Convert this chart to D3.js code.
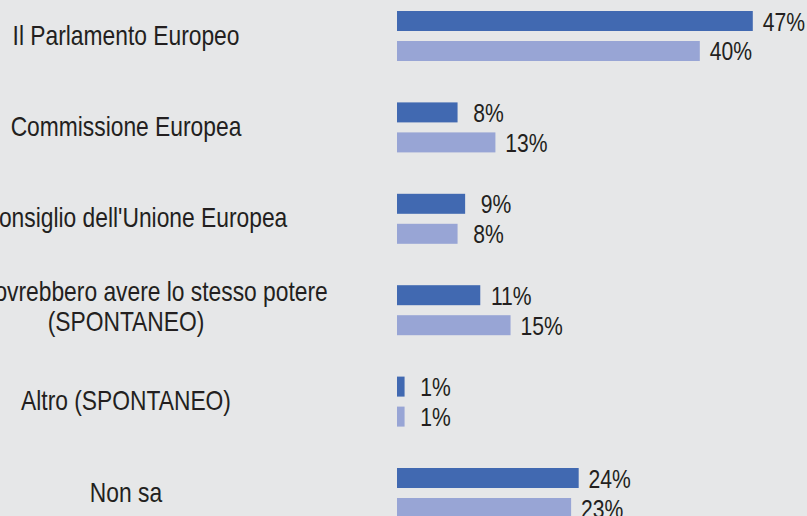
<!DOCTYPE html>
<html>
<head>
<meta charset="utf-8">
<script src="https://cdn.jsdelivr.net/npm/d3@7"></script>
<style>
  html, body { margin: 0; padding: 0; background: #e6e7e8; overflow: hidden; }
  svg { display: block; }
  text { font-family: "Liberation Sans", Arial, sans-serif; fill: #231f20; }
</style>
</head>
<body>
<div id="chart"></div>
<script>
// categories, "|" marks a line break in the label
const categories = [
  "Il Parlamento Europeo",
  "Commissione Europea",
  "Il Consiglio dell'Unione Europea",
  "Tutte dovrebbero avere lo stesso potere|(SPONTANEO)",
  "Altro (SPONTANEO)",
  "Non sa"
];
const series = ["recente", "precedente"];
const valuesRecente = [47, 8, 9, 11, 1, 24];
const valuesPrecedente = [40, 13, 8, 15, 1, 23];
const colors = ["#4169b1", "#98a5d5"];

const width = 807;
const height = 516;
const narrow = 0.845; // the original uses a narrow typeface

const svg = d3.select("#chart").append("svg")
    .attr("width", width)
    .attr("height", height);

svg.append("rect")
    .attr("width", width)
    .attr("height", height)
    .attr("fill", "#e6e7e8");

//----------------------------SCALES----------------------------//
const xScale = d3.scaleLinear().domain([0, 100]).range([397, 397 + 757]);
const yScale = d3.scaleBand()
    .domain(categories)
    .range([-9.7, -9.7 + 91.4 * categories.length]);
const yInner = d3.scaleBand()
    .domain(series)
    .range([yScale.bandwidth() / 2 - 25, yScale.bandwidth() / 2 + 25])
    .paddingInner(1 / 3);

const rows = categories.map(function(c, i) {
    return {
        cat: c,
        values: [
            { s: series[0], v: valuesRecente[i] },
            { s: series[1], v: valuesPrecedente[i] }
        ]
    };
});

//----------------------------LABELS----------------------------//
rows.forEach(function(d) {
    const lines = d.cat.split("|");
    const mid = yScale(d.cat) + yScale.bandwidth() / 2;
    const lh = 30;
    const first = mid + 8.5 - (lines.length - 1) * lh / 2 - (lines.length > 1 ? 3 : 0);
    const t = svg.append("g")
        .attr("transform", "translate(126," + first + ") scale(" + narrow + ",1)")
        .append("text")
        .attr("class", "cat-label")
        .attr("text-anchor", "middle")
        .style("font-size", "27px");
    t.selectAll("tspan")
        .data(lines)
        .enter()
        .append("tspan")
        .attr("x", 0)
        .attr("y", function(l, j) { return j * lh; })
        .text(function(l) { return l; });
});

//-----------------------------BARS-----------------------------//
const groups = svg.selectAll(".group")
    .data(rows)
    .enter()
    .append("g")
    .attr("class", "group")
    .attr("transform", function(d) { return "translate(0," + yScale(d.cat) + ")"; });

groups.selectAll("rect")
    .data(function(d) { return d.values; })
    .enter()
    .append("rect")
    .attr("x", xScale(0))
    .attr("y", function(d) { return yInner(d.s); })
    .attr("width", function(d) { return xScale(d.v) - xScale(0); })
    .attr("height", yInner.bandwidth())
    .attr("fill", function(d, i) { return colors[i]; });

groups.selectAll(".val")
    .data(function(d) { return d.values; })
    .enter()
    .append("g")
    .attr("transform", function(d) {
        return "translate(" + (xScale(d.v) + 31) + "," + (yInner(d.s) + yInner.bandwidth() / 2 + 9.5) + ") scale(" + narrow + ",1)";
    })
    .append("text")
    .attr("class", "val")
    .attr("text-anchor", "middle")
    .style("font-size", "25px")
    .text(function(d) { return d.v + "%"; });
</script>
</body>
</html>
